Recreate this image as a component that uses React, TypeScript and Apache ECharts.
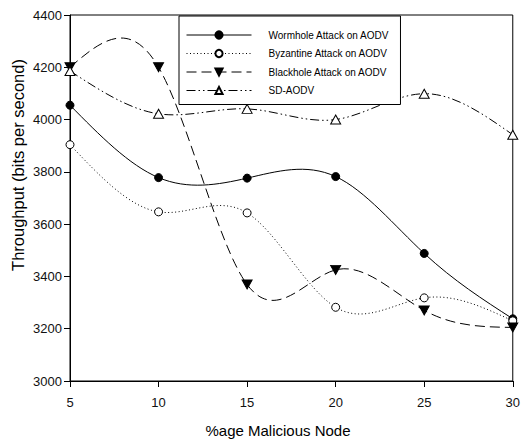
import React, { useEffect, useRef } from "react";
import * as echarts from "echarts";

const xValues = [5, 10, 15, 20, 25, 30];
const wormhole = [4055, 3778, 3776, 3782, 3488, 3238];
const byzantine = [3904, 3647, 3643, 3282, 3318, 3230];
const blackhole = [4200, 4200, 3369, 3425, 3270, 3205];
const sdAodv = [4186, 4022, 4041, 4000, 4099, 3942];
const seriesNames = [
  "Wormhole Attack on AODV",
  "Byzantine Attack on AODV",
  "Blackhole Attack on AODV",
  "SD-AODV",
];
const xTitle = "%age Malicious Node";
const yTitle = "Throughput (bits per second)";

const FONT = "'Liberation Sans', Arial, sans-serif";
const invTri = "path://M0,0 L10,0 L5,9 Z";

const dashes: any[] = ["solid", [1, 2.5], [10, 5], [9, 3, 1.5, 3, 1.5, 3]];
const allData = [wormhole, byzantine, blackhole, sdAodv];

function pairs(vals: number[]) {
  return xValues.map((x, i) => [x, vals[i]]);
}

// natural cubic spline drawn as bezier segments through the projected points
function splinePath(pts: number[][]) {
  const n = pts.length - 1;
  const Y = pts.map((p) => p[1]);
  const X = pts.map((p) => p[0]);
  const M = new Array(n + 1).fill(0);
  if (n >= 2) {
    const a: number[] = [], b: number[] = [], c: number[] = [], d: number[] = [];
    for (let i = 1; i < n; i++) {
      a.push(1); b.push(4); c.push(1);
      d.push(6 * (Y[i + 1] - 2 * Y[i] + Y[i - 1]));
    }
    const m = d.length;
    for (let i = 1; i < m; i++) {
      const w = a[i] / b[i - 1];
      b[i] -= w * c[i - 1];
      d[i] -= w * d[i - 1];
    }
    const sol = new Array(m).fill(0);
    sol[m - 1] = d[m - 1] / b[m - 1];
    for (let i = m - 2; i >= 0; i--) sol[i] = (d[i] - c[i] * sol[i + 1]) / b[i];
    for (let i = 1; i < n; i++) M[i] = sol[i - 1];
  }
  const slope = (i: number) =>
    i < n
      ? Y[i + 1] - Y[i] - (2 * M[i] + M[i + 1]) / 6
      : Y[n] - Y[n - 1] + (M[n - 1] + 2 * M[n]) / 6;
  let dStr = `M${X[0]},${Y[0]}`;
  for (let i = 0; i < n; i++) {
    const dx = (X[i + 1] - X[i]) / 3;
    const c1x = X[i] + dx, c1y = Y[i] + slope(i) / 3;
    const c2x = X[i + 1] - dx, c2y = Y[i + 1] - slope(i + 1) / 3;
    dStr += ` C${c1x},${c1y} ${c2x},${c2y} ${X[i + 1]},${Y[i + 1]}`;
  }
  return dStr;
}

export default function App() {
  const ref = useRef<HTMLDivElement>(null);
  useEffect(() => {
    if (!ref.current) return;
    document.body.style.margin = "0";
    const chart = echarts.init(ref.current, undefined, { renderer: "svg" });
    const symbols = ["circle", "circle", invTri, "triangle"];
    const fills = ["#000", "#fff", "#000", "#fff"];
    const sizes: any[] = [8, 8, [10, 9], [10, 9]];

    const curveSeries = allData.map((vals, k) => ({
      type: "custom",
      name: seriesNames[k] + "-curve",
      data: pairs(vals),
      z: 1,
      silent: true,
      clip: false,
      renderItem: (params: any, api: any) => {
        if (params.dataIndex !== 0) return null;
        const pts = xValues.map((x, i) => api.coord([x, vals[i]]));
        const style: any = { fill: "none", stroke: "#000", lineWidth: 1 };
        if (dashes[k] !== "solid") style.lineDash = dashes[k];
        return { type: "path", shape: { pathData: splinePath(pts) }, style };
      },
    }));

    const markerSeries = allData.map((vals, k) => ({
      type: "line",
      name: seriesNames[k],
      data: pairs(vals),
      z: 3,
      symbol: symbols[k],
      symbolSize: sizes[k],
      showAllSymbol: true,
      clip: false,
      itemStyle: { color: fills[k], borderColor: "#000", borderWidth: 1 },
      lineStyle: { color: "#000", width: 1, opacity: 0 },
    }));

    chart.setOption({
      animation: false,
      backgroundColor: "#fff",
      grid: {
        left: 70,
        right: 8,
        top: 15,
        bottom: 67,
        show: true,
        borderColor: "#000",
        borderWidth: 1,
        backgroundColor: "transparent",
      },
      legend: {
        orient: "vertical",
        left: 179,
        top: 16,
        itemWidth: 65,
        itemHeight: 9,
        itemGap: 8.5,
        padding: [14, 11, 9, 7],
        borderColor: "#000",
        borderWidth: 1,
        backgroundColor: "#fff",
        textStyle: {
          fontFamily: FONT,
          fontSize: 10,
          color: "#000",
          padding: [0, 0, 0, 12],
        },
        data: seriesNames.map((name, k) => ({
          name,
          lineStyle: {
            color: "#000",
            width: 1,
            opacity: 1,
            type: dashes[k],
          },
        })),
      },
      graphic: [
        {
          type: "text",
          x: 278,
          y: 430,
          style: {
            text: xTitle,
            fontFamily: FONT,
            fontSize: 15,
            fill: "#000",
            textAlign: "center",
            textVerticalAlign: "middle",
          },
        },
        {
          type: "text",
          x: 18,
          y: 165,
          rotation: Math.PI / 2,
          style: {
            text: yTitle,
            fontFamily: FONT,
            fontSize: 16.5,
            fill: "#000",
            textAlign: "center",
            textVerticalAlign: "middle",
          },
        },
      ],
      xAxis: {
        type: "value",
        min: 5,
        max: 30,
        interval: 5,
        axisLine: { lineStyle: { color: "#000", width: 1 } },
        axisTick: { show: true, length: 6, lineStyle: { color: "#000" } },
        axisLabel: {
          fontFamily: FONT,
          fontSize: 13,
          color: "#111",
          margin: 15,
          formatter: (v: number) => String(v),
        },
        splitLine: { show: false },
      },
      yAxis: {
        type: "value",
        min: 3000,
        max: 4400,
        interval: 200,
        axisLine: { show: true, lineStyle: { color: "#000", width: 1 } },
        axisTick: { show: true, length: 6, lineStyle: { color: "#000" } },
        axisLabel: {
          fontFamily: FONT,
          fontSize: 13,
          color: "#111",
          margin: 8,
          formatter: (v: number) => String(v),
        },
        splitLine: { show: false },
      },
      series: [...curveSeries, ...markerSeries],
    });
    return () => chart.dispose();
  }, []);
  return <div ref={ref} style={{ width: 523, height: 448 }} />;
}
